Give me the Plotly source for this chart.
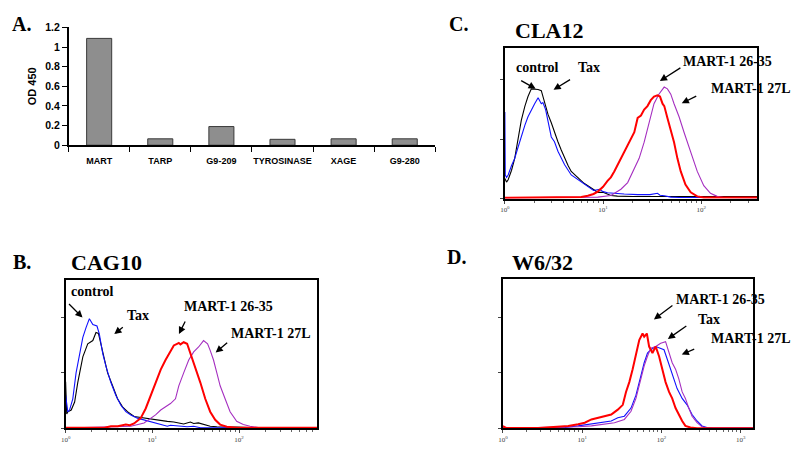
import plotly.graph_objects as go

W, H = 800, 452

# ---------------- Panel A data ----------------
categories = ["MART", "TARP", "G9-209", "TYROSINASE", "XAGE", "G9-280"]
od450 = [1.088, 0.065, 0.19, 0.06, 0.065, 0.065]

# ---------------- Panel B (CAG10) ----------------
b_black_x = [1.0, 1.03, 1.06, 1.16, 1.27, 1.38, 1.58, 1.80, 2.06, 2.24, 2.39, 2.56, 2.80, 3.05, 3.48, 3.97, 4.53,
             5.17, 6.17, 7.35, 8.77, 10.9, 12.5, 14.9, 17.7, 21.1, 23.0, 27.5, 30.0, 34.0, 39.0, 46.5, 55.5, 72.0,
             94.0, 159, 795]
b_black_y = [42, 13, 15, 16.6, 23.8, 41.3, 64.5, 76.2, 79.1, 86.3, 85.5, 76.2, 61.6, 50, 38.4, 26.7, 19.5,
             15.1, 10.8, 9.9, 9.3, 7.8, 6.8, 6.4, 5.8, 4.9, 4.0, 5.8, 4.5, 5.0, 3.5, 2.0, 1.5, 1.5,
             1.2, 0.6, 0.6]
b_blue_x = [1.0, 1.06, 1.11, 1.21, 1.32, 1.45, 1.58, 1.72, 1.88, 2.06, 2.30, 2.45, 2.68, 2.92, 3.33, 3.80, 4.34,
            4.95, 5.65, 6.73, 8.03, 9.57, 12.5, 14.9, 16.2, 20.2, 25.2, 30.0, 35.8, 795]
b_blue_y = [30, 15, 16.6, 26.7, 50, 67.4, 82, 90.7, 98.8, 93.6, 92.2, 84.9, 67.4, 55.8, 41.3, 29.7, 20.9,
            15.1, 12.2, 9.3, 7.8, 6.4, 3.5, 2.0, 2.9, 2.0, 1.5, 2.0, 0.6, 0.6]
b_red_x = [1.0, 2.8, 3.33, 4.0, 4.95, 5.5, 6.17, 7.35, 8.39, 9.57, 10.9, 12.5, 14.2, 16.2, 17.7, 19.3, 20.2, 21.1,
           23.0, 25.2, 27.5, 31.3, 35.8, 40.8, 46.5, 53.1, 60.6, 72.2, 94.0, 795]
b_red_y = [0.6, 0.6, 2.0, 2.0, 3.5, 3.0, 4.5, 9.3, 18.0, 29.7, 41.3, 52.9, 61.6, 70.3, 74.7, 76.2, 77, 75.6,
           77.6, 76.2, 67.4, 55.8, 41.3, 26.7, 15.1, 7.8, 3.5, 1.5, 0.6, 0.6]
b_mag_x = [1.0, 5.65, 8.03, 9.57, 10.9, 12.5, 14.2, 16.2, 18.5, 20.2, 23.0, 26.3, 30.0, 34.2, 39.0, 43.4, 46.5,
           50.8, 55.5, 60.6, 69.1, 78.9, 94.0, 112, 134, 174, 795]
b_mag_y = [0.3, 2.0, 4.9, 9.3, 12.2, 16.6, 19.5, 22.4, 26.7, 38.4, 50, 61.6, 68.9, 73.3, 79.1, 76.2, 70.3,
           61.6, 50, 38.4, 26.7, 15.1, 6.4, 3.5, 2.0, 0.6, 0.3]

# ---------------- Panel C (CLA12) ----------------
c_black_x = [1.0, 1.04, 1.08, 1.17, 1.26, 1.37, 1.47, 1.6, 1.72, 1.86, 2.01, 2.18, 2.35, 2.54, 2.75, 2.97, 3.2,
             3.47, 3.75, 4.06, 4.4, 4.74, 5.15, 5.54, 6.4, 7.0, 7.8, 8.83, 10.0, 11.1, 12.0, 14.0, 20.0, 375]
c_black_y = [17, 14, 16, 24, 34, 50, 66, 78, 86, 92.5, 92.5, 92, 91, 80, 71, 64, 56,
             48, 41, 34, 28, 23, 20, 17.7, 13, 10.9, 8, 5.4, 5.4, 4, 2.7, 2.2, 1.9, 1.9]
c_blue_x = [1.0, 1.01, 1.04, 1.08, 1.17, 1.26, 1.37, 1.47, 1.6, 1.72, 1.86, 2.01, 2.18, 2.35, 2.44, 2.6, 2.97,
            3.2, 3.47, 4.06, 4.74, 5.54, 6.4, 7.0, 8.0, 9.2, 10.0, 11.1, 12.5, 16.4, 22.5, 30, 35.8, 38, 42, 49,
            60, 375]
c_blue_y = [73, 20, 18, 20, 28, 34, 44, 53, 62, 69, 75, 80, 85, 80, 81, 75, 52,
            48, 40, 28.6, 20, 16, 12, 10, 7, 8, 6, 5, 4.6, 4, 3.5, 3.5, 4.6, 3, 2.5, 1.4,
            1.0, 1.0]
c_red_x = [1.0, 5.0, 6.0, 7.0, 8.0, 8.83, 10.0, 11.1, 12.0, 13.0, 15.2, 17.8, 20.8, 22.5, 24.3, 26.2, 28.3,
           30.6, 33.0, 35.8, 38.0, 40.3, 42.0, 45.2, 48.9, 52.8, 57.1, 61.8, 69.0, 78.0, 91.0, 106, 375]
c_red_y = [0.8, 0.8, 1.4, 2.5, 4, 6, 10, 15, 18, 23, 34, 45, 56, 68, 70, 75, 78,
           83, 86, 87, 86, 80, 78, 68, 58, 47.6, 34, 23, 12, 5.4, 2, 1, 1]
c_mag_x = [1.0, 8.83, 12.0, 15.2, 17.8, 20.8, 23.3, 26.2, 29.5, 33.0, 37.0, 41.9, 45.2, 48.9, 52.8, 59.4, 66.7,
           78.0, 91.0, 106, 124, 145, 170, 375]
c_mag_y = [0.8, 1.4, 2.7, 8, 13.6, 25.8, 34, 47.6, 64, 80, 88, 94, 92.5, 88, 80, 69, 56,
           39, 23, 11, 4.6, 2, 1, 0.8]

# ---------------- Panel D (W6/32) ----------------
d_red_x = [1.0, 1.1, 2.82, 6.68, 8.91, 10.8, 13.1, 15.8, 19.2, 23.3, 28.2, 32.6, 35.8, 39.4, 43.4, 47.8, 52.6,
           57.9, 60.7, 65.6, 70.1, 77.2, 84.9, 93.5, 103, 113, 125, 137, 151, 166, 183, 201, 233, 282, 1439]
d_red_y = [2.0, 0.5, 0.5, 2.3, 3.8, 5.2, 8.1, 9.6, 11.0, 12.5, 16.9, 21.2, 32.8, 41.6, 53.2, 67.7, 79.4,
           85.2, 82.3, 85.2, 73.5, 67.7, 73.5, 64.8, 53.2, 41.6, 32.8, 27, 18.3, 12.5, 6.7, 2.3, 0.9, 0.3, 0.3]
d_blue_x = [1.0, 2.82, 6.07, 8.91, 13.1, 17.4, 23.3, 28.2, 34.1, 41.4, 47.8, 55.2, 60.7, 66.8, 73.6, 84.9, 93.5,
            108, 119, 131, 144, 158, 183, 211, 244, 282, 326, 376, 455, 1439]
d_blue_y = [0.5, 1.0, 0.9, 2.3, 3.8, 5.2, 6.7, 9.6, 11.0, 18.3, 29.9, 47.4, 59, 67.7, 70.6, 73.5, 72.1,
            70.6, 61.9, 53.2, 44.5, 35.8, 27, 21.2, 12.5, 6.7, 2.3, 0.9, 0.3, 0.3]
d_mag_x = [1.0, 2.82, 6.07, 8.91, 13.1, 19.2, 25.6, 34.1, 41.4, 47.8, 55.2, 60.7, 66.8, 73.6, 84.9, 98.1, 113,
           125, 137, 151, 166, 183, 201, 222, 244, 282, 326, 376, 1439]
d_mag_y = [0.3, 0.9, 0.9, 1.5, 2.3, 3.8, 5.2, 8.1, 15.4, 27, 44.5, 56.1, 64.8, 72.1, 73.5, 76.5, 77.9,
           67.7, 59, 53.2, 44.5, 32.8, 27, 18.3, 11.0, 5.2, 1.5, 0.3, 0.3]

BLACK = "#000000"
BLUE = "#1010ff"
RED = "#ff0000"
MAG = "#a52fc0"

SERIF = "Liberation Serif"
SANS = "Liberation Sans"


def px(x, y):
    return x / W, 1 - y / H


fig = go.Figure()

fig.add_trace(go.Bar(x=categories, y=od450, width=0.41, xaxis="x", yaxis="y",
                     marker=dict(color="#8e8e8e", line=dict(color="#3a3a3a", width=1))))


def add_hist(xs, ys, color, width, ax, ay):
    fig.add_trace(go.Scatter(x=xs, y=ys, mode="lines", xaxis=ax, yaxis=ay,
                             line=dict(color=color, width=width), hoverinfo="skip"))


add_hist(b_black_x, b_black_y, BLACK, 1.1, "x2", "y2")
add_hist(b_blue_x, b_blue_y, BLUE, 1.1, "x2", "y2")
add_hist(b_mag_x, b_mag_y, MAG, 1.1, "x2", "y2")
add_hist(b_red_x, b_red_y, RED, 2.0, "x2", "y2")

add_hist(c_black_x, c_black_y, BLACK, 1.1, "x3", "y3")
add_hist(c_blue_x, c_blue_y, BLUE, 1.1, "x3", "y3")
add_hist(c_mag_x, c_mag_y, MAG, 1.1, "x3", "y3")
add_hist(c_red_x, c_red_y, RED, 2.0, "x3", "y3")

add_hist(d_blue_x, d_blue_y, BLUE, 1.1, "x4", "y4")
add_hist(d_mag_x, d_mag_y, MAG, 1.1, "x4", "y4")
add_hist(d_red_x, d_red_y, RED, 2.0, "x4", "y4")


def facs_x(left, right, top_decade):
    vals = [10 ** k for k in range(0, int(top_decade) + 1)]
    return dict(type="log", domain=[left / W, right / W], range=[0, top_decade],
                showline=True, mirror=True, linecolor="black", linewidth=1.6,
                ticks="outside", ticklen=3, tickcolor="#444", tickwidth=1,
                tickmode="array", tickvals=vals,
                ticktext=["10<sup>%d</sup>" % k for k in range(len(vals))],
                tickfont=dict(family=SERIF, size=7, color="#444"),
                minor=dict(ticks="outside", ticklen=2, tickcolor="#666", dtick="D1"),
                showgrid=False, zeroline=False, fixedrange=True)


def facs_y(top, bottom, ymax, anchor):
    return dict(domain=[1 - bottom / H, 1 - top / H], range=[0, ymax], anchor=anchor,
                showline=True, mirror=True, linecolor="black", linewidth=1.6,
                ticks="outside", ticklen=3, tickcolor="#444", tickvals=[0, 50, 100],
                showticklabels=False, showgrid=False, zeroline=False, fixedrange=True)


layout = dict(
    width=W, height=H, margin=dict(l=0, r=0, t=0, b=0),
    paper_bgcolor="white", plot_bgcolor="white", showlegend=False,
    xaxis=dict(domain=[64 / W, 433 / W], anchor="y", range=[-0.5, 5.5],
               showline=True, linecolor="black", linewidth=1.5,
               ticks="outside", tickson="boundaries", ticklen=5, tickcolor="black",
               tickangle=0, ticklabelstandoff=6,
               tickfont=dict(family=SANS, size=9, color="black", weight="bold"),
               showgrid=False, fixedrange=True),
    yaxis=dict(domain=[1 - 143 / H, 1 - 22 / H], anchor="x", range=[0, 1.2], dtick=0.2,
               showline=True, linecolor="black", linewidth=1.5,
               ticks="outside", ticklen=5, tickcolor="black",
               tickfont=dict(family=SANS, size=10.5, color="black", weight="bold"),
               title=dict(text="OD 450", standoff=6,
                          font=dict(family=SANS, size=11, color="black", weight="bold")),
               showgrid=False, zeroline=False, fixedrange=True),
    xaxis2=facs_x(61, 314, 2.9) | dict(anchor="y2"),
    yaxis2=facs_y(281, 434, 134, "x2"),
    xaxis3=facs_x(503, 757, 2.57) | dict(anchor="y3"),
    yaxis3=facs_y(43, 198, 127, "x3"),
    xaxis4=facs_x(501, 753, 3.16) | dict(anchor="y4"),
    yaxis4=facs_y(280, 434, 134.5, "x4"),
)
fig.update_layout(**layout)

annotations = []


def label(text, x, y, size):
    xp, yp = px(x, y)
    annotations.append(dict(text=text, x=xp, y=yp, xref="paper", yref="paper",
                            xanchor="left", yanchor="middle", showarrow=False,
                            borderpad=0,
                            font=dict(family=SERIF, size=size, color="black", weight="bold")))


def arrow(tx, ty, hx, hy):
    xp, yp = px(hx, hy)
    annotations.append(dict(text="", x=xp, y=yp, xref="paper", yref="paper",
                            ax=tx - hx, ay=ty - hy, axref="pixel", ayref="pixel",
                            showarrow=True, arrowhead=2, arrowsize=1.1, arrowwidth=1.3,
                            arrowcolor="black", standoff=0, startstandoff=0))


# panel letters and titles
label("A.", 6, 18, 20)
label("B.", 7, 263, 20)
label("C.", 446, 18, 20)
label("D.", 444, 258, 20)
label("CAG10", 65, 263, 22)
label("CLA12", 512, 25, 22)
label("W6/32", 509, 264, 22)

# panel B texts
label("control", 65, 293, 14)
label("Tax", 122, 318, 14)
label("MART-1 26-35", 179, 309, 14)
label("MART-1 27L", 226, 336, 14)
arrow(63, 305, 78, 320)
arrow(120, 329, 110, 337)
arrow(182, 323, 175, 337)
arrow(225, 345, 212, 356)

# panel C texts
label("control", 513, 63, 14)
label("Tax", 576, 63, 14)
label("MART-1 26-35", 681, 57, 14)
label("MART-1 27L", 709, 85, 14)
arrow(518, 76, 534, 85)
arrow(570, 75, 552, 86)
arrow(681, 63, 659, 77)
arrow(697, 92, 681, 100)

# panel D texts
label("MART-1 26-35", 674, 301, 14)
label("Tax", 696, 322, 14)
label("MART-1 27L", 709, 342, 14)
arrow(673, 307, 653, 322)
arrow(687, 328, 667, 342)
arrow(695, 352, 681, 358)

fig.update_layout(annotations=annotations)

fig.write_html("out.html", config={"displayModeBar": False},
               post_script="document.body.style.margin='0';document.body.style.overflow='hidden';")
